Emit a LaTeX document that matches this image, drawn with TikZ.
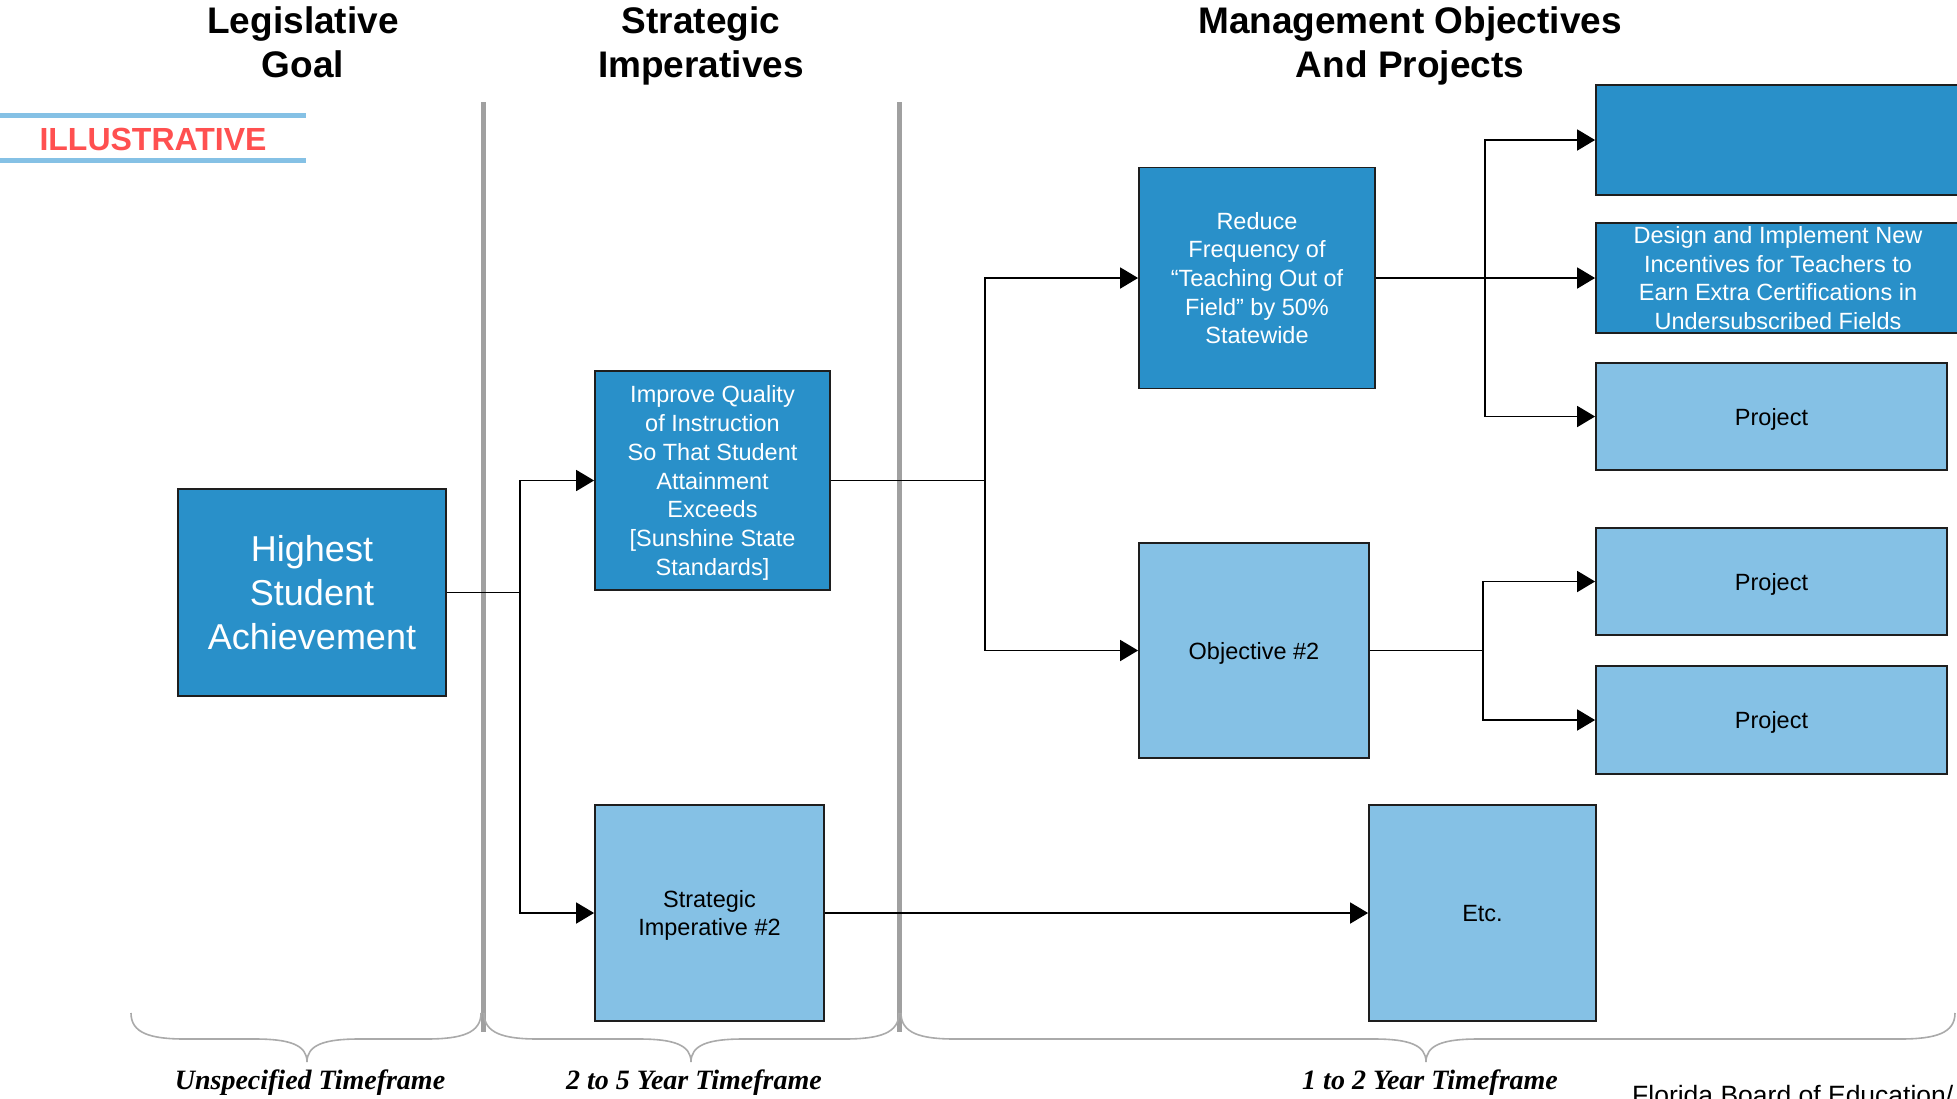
\documentclass[tikz,border=0pt]{standalone}
\usepackage{fontspec}
\setmainfont{Liberation Sans}
\newfontfamily\timesfont{Liberation Serif}
\usetikzlibrary{arrows.meta}
\definecolor{darkblue}{RGB}{41,144,201}
\definecolor{lightblue}{RGB}{133,193,229}
\definecolor{boxborder}{RGB}{30,30,30}
\definecolor{illred}{RGB}{255,80,80}
\definecolor{sepgray}{RGB}{160,160,160}
\definecolor{bracegray}{RGB}{170,170,170}
\tikzset{
  darkbox/.style={rectangle, draw=boxborder, line width=1.8pt, fill=darkblue, text=white, align=center, inner sep=0pt,
    text depth=0pt, font=\fontsize{23.5}{28.7}\selectfont},
  lightbox/.style={rectangle, draw=boxborder, line width=1.8pt, fill=lightblue, text=black, align=center, inner sep=0pt,
    text depth=0pt, font=\fontsize{23.5}{28.7}\selectfont},
  conn/.style={line width=1.8pt, draw=black},
  arr/.style={conn, -{Triangle[length=18pt,width=21pt]}},
  title/.style={font=\fontsize{37}{44}\selectfont\bfseries, align=center, inner sep=0pt},
  sepline/.style={line width=5pt, draw=sepgray},
  bracestyle/.style={line width=1.6pt, draw=bracegray},
  tframe/.style={font=\timesfont\fontsize{28}{32}\selectfont\bfseries\itshape, inner sep=0pt},
}
\begin{document}
\begin{tikzpicture}[x=1pt,y=-1pt]
\clip (0,0) rectangle (1957,1098);
\fill[white] (0,0) rectangle (1957,1098);

% titles
\node[title, anchor=base] (t1) at (303,77) {Legislative\\Goal};
\node[title, anchor=base] (t2) at (701,77) {Strategic\\Imperatives};
\node[title, anchor=base] (t3) at (1410,77) {Management Objectives\\And Projects};

% illustrative
\draw[line width=5pt, draw=lightblue] (0,115) -- (306,115);
\draw[line width=5pt, draw=lightblue] (0,160) -- (306,160);
\node[font=\fontsize{32}{36}\selectfont\bfseries, text=illred, inner sep=0pt] (ill) at (153,139) {ILLUSTRATIVE};

% separators
\draw[sepline] (483,102) -- (483,1032);
\draw[sepline] (899,102) -- (899,1032);

% boxes
\node[darkbox, minimum width=268pt, minimum height=207pt, font=\fontsize{36}{44}\selectfont, text depth=-3pt] (goal) at (312,592.5) {Highest\\Student\\Achievement};
\node[darkbox, minimum width=235pt, minimum height=219pt, text depth=-10pt] (imp1) at (712.5,480.5) {Improve Quality\\of Instruction\\So That Student\\Attainment\\Exceeds\\{[}Sunshine State\\Standards{]}};
\node[lightbox, minimum width=229pt, minimum height=216pt] (imp2) at (709.5,913) {Strategic\\Imperative \#2};
\node[darkbox, minimum width=236pt, minimum height=221pt] (obj1) at (1257,278) {Reduce\\Frequency of\\“Teaching Out of\\Field” by 50\%\\Statewide};
\node[lightbox, minimum width=230pt, minimum height=215pt] (obj2) at (1254,650.5) {Objective \#2};
\node[lightbox, minimum width=227pt, minimum height=216pt] (etc) at (1482.5,913) {Etc.};
\node[darkbox, minimum width=364pt, minimum height=110pt] (p0) at (1778,140) {};
\node[darkbox, minimum width=364pt, minimum height=110pt] (p1) at (1778,278) {Design and Implement New\\Incentives for Teachers to\\Earn Extra Certifications in\\Undersubscribed Fields};
\node[lightbox, minimum width=351pt, minimum height=107pt] (p2) at (1771.5,416.5) {Project};
\node[lightbox, minimum width=351pt, minimum height=107pt] (p3) at (1771.5,581.5) {Project};
\node[lightbox, minimum width=351pt, minimum height=108pt] (p4) at (1771.5,720) {Project};

% connectors
\coordinate (j1) at (520,592.5);
\coordinate (j2) at (985,480.5);
\coordinate (j3) at (1485,278);
\coordinate (j4) at (1483,650.5);
\draw[conn] (goal.east) -- (j1);
\draw[arr] (j1) |- (imp1.west);
\draw[arr] (j1) |- (imp2.west);
\draw[conn] (imp1.east) -- (j2);
\draw[arr] (j2) |- (obj1.west);
\draw[arr] (j2) |- (obj2.west);
\draw[arr] (imp2.east) -- (etc.west);
\draw[arr] (obj1.east) -- (p1.west);
\draw[arr] (j3) |- (p0.west);
\draw[arr] (j3) |- (p2.west);
\draw[conn] (obj2.east) -- (j4);
\draw[arr] (j4) |- (p3.west);
\draw[arr] (j4) |- (p4.west);

% braces
\draw[bracestyle] (131,1013) .. controls (131,1033) and (150,1039) .. (185,1039) -- (255,1039)
  .. controls (290,1039) and (307,1045) .. (307,1062) .. controls (307,1045) and (324,1039) .. (359,1039)
  -- (426,1039) .. controls (462,1039) and (481,1033) .. (481,1013);
\draw[bracestyle] (484,1013) .. controls (484,1033) and (503,1039) .. (538,1039) -- (639,1039)
  .. controls (674,1039) and (691,1045) .. (691,1062) .. controls (691,1045) and (708,1039) .. (743,1039)
  -- (844,1039) .. controls (880,1039) and (899,1033) .. (899,1013);
\draw[bracestyle] (901,1013) .. controls (901,1033) and (920,1039) .. (955,1039) -- (1374,1039)
  .. controls (1409,1039) and (1426,1045) .. (1426,1062) .. controls (1426,1045) and (1443,1039) .. (1478,1039)
  -- (1900,1039) .. controls (1936,1039) and (1955,1033) .. (1955,1013);

% timeframe labels
\node[tframe] (tf1) at (310,1083) {Unspecified Timeframe};
\node[tframe] (tf2) at (694,1083) {2 to 5 Year Timeframe};
\node[tframe] (tf3) at (1430,1083) {1 to 2 Year Timeframe};
\node[font=\fontsize{26.5}{30}\selectfont, anchor=base west, inner sep=0pt] (src) at (1632,1104) {Florida Board of Education/};
\end{tikzpicture}
\end{document}
